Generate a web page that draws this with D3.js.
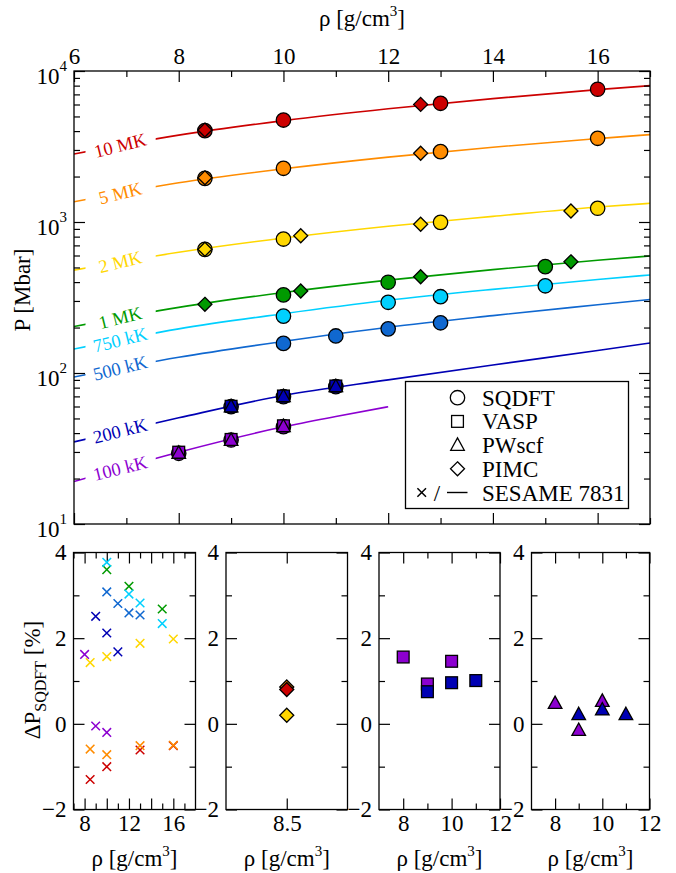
<!DOCTYPE html>
<html>
<head>
<meta charset="utf-8">
<script src="https://cdn.jsdelivr.net/npm/d3@7/dist/d3.min.js"></script>
<style>
body{margin:0;background:#fff}
text, tspan {font-family:"Liberation Serif" !important}
</style>
</head>
<body>
<svg id="chart" width="676" height="873" font-family="Liberation Serif"></svg>
<script>
let temps = ['10 MK','5 MK','2 MK','1 MK','750 kK','500 kK','200 kK','100 kK']
let colours = ['#cc0000','#ff8c00','#ffd700','#009a00','#00d0ff','#1068d0','#0000b4','#8c00d0']

// SESAME 7831 isotherms, P in Mbar
let sesameRho = [6,8,10,12,14,16,17]
let sesame10MK = [2820,3760,4690,5620,6560,7530,8000]
let sesame5MK = [1360,1820,2250,2690,3130,3565,3790]
let sesame2MK = [480,630,783,938,1090,1257,1330]
let sesame1MK = [203,272,341,412,484,558,596]
let sesame750kK = [144,196,247,303,358,416,446]
let sesame500kK = [94,127,162,201,240,283,307]
let sesame200kK = [35,50.5,71,90,113,141,158]
let sesame100kKRho = [6,8,10,11,12]
let sesame100kK = [19.1,29.9,44,51.5,59.8]

// SQDFT
let sqdft10MK = [[8.5,4030],[10,4732],[13,6110],[16,7570]]
let sqdft5MK = [[8.5,1945],[10,2268],[13,2924],[16,3583]]
let sqdft2MK = [[8.5,659],[10,771],[13,995],[16,1233]]
let sqdft1MK = [[10,329],[12,399],[15,506]]
let sqdft750kK = [[10,238],[12,294],[13,320],[15,378]]
let sqdft500kK = [[10,157],[11,176],[12,196],[13,215]]
let sqdft200kK = [[9,59.8],[10,69.7],[11,81.2]]
let sqdft100kK = [[8,29.4],[9,36.0],[10,44.1]]

// VASP, PWscf, PIMC
let vasp200kK = [[9,60.2],[10,70.4],[11,82.0]]
let vasp100kK = [[8,29.9],[9,36.3],[10,44.7]]
let pwscf200kK = [[9,59.9],[10,69.9],[11,81.4]]
let pwscf100kK = [[8,29.5],[9,35.9],[10,44.3]]
let pimc10MK = [[8.5,4062],[12.62,6010]]
let pimc5MK = [[8.5,1962],[12.62,2853]]
let pimc2MK = [[8.5,660],[10.33,811],[12.62,966],[15.49,1183]]
let pimc1MK = [[8.5,285],[10.33,349],[12.62,434],[15.49,545]]

// deviations from SQDFT [%]
let devSesame10MK = [[8.5,-1.30],[10,-1.00],[13,-0.61],[16,-0.51]]
let devSesame5MK = [[8.5,-0.59],[10,-0.72],[13,-0.51],[16,-0.50]]
let devSesame2MK = [[8.5,1.43],[10,1.57],[13,1.88],[16,1.98]]
let devSesame1MK = [[10,3.60],[12,3.21],[15,2.68]]
let devSesame750kK = [[10,3.77],[12,3.03],[13,2.82],[15,2.34]]
let devSesame500kK = [[10,3.08],[11,2.81],[12,2.59],[13,2.54]]
let devSesame200kK = [[9,2.51],[10,2.12],[11,1.68]]
let devSesame100kK = [[8,1.62],[9,-0.05],[10,-0.20]]
let devPimc5MK = [[8.5,0.86]]
let devPimc10MK = [[8.5,0.80]]
let devPimc2MK = [[8.5,0.20]]
let devVasp100kK = [[8,1.56],[9,0.93],[10,1.46]]
let devVasp200kK = [[9,0.75],[10,0.96],[11,1.01]]
let devPwscf100kK = [[8,0.48],[9,-0.15],[10,0.53]]
let devPwscf200kK = [[9,0.22],[10,0.33],[11,0.22]]

let legendNames = ['SQDFT','VASP','PWscf','PIMC','SESAME 7831']

let svg = d3.select('#chart')
let fontSize = 23

function addAxis(axis,tx,ty){
	let a = svg.append('g').attr('transform','translate('+tx+','+ty+')').call(axis)
	a.select('.domain').remove()
	a.attr('font-family','Liberation Serif')
	a.selectAll('line').attr('stroke','#000').attr('stroke-width',1.2)
	a.selectAll('text').attr('font-size',fontSize).attr('fill','#000')
	return a
}

function drawFrame(x,y,xMajor,xMinor,xLabels,yMajor,yMinor,yLabels,topLabels){
	let x0 = x.range()[0], x1 = x.range()[1]
	let y0 = y.range()[0], y1 = y.range()[1]
	let fmt = function(d){ return xLabels.indexOf(d)>-1 ? d3.format('')(d) : '' }
	let yfmt = function(d){ return yLabels ? d3.format('')(d) : '' }
	addAxis(d3.axisBottom(x).tickValues(xMajor).tickSize(-11).tickPadding(5).tickFormat(topLabels ? '' : fmt),0,y0)
	addAxis(d3.axisTop(x).tickValues(xMajor).tickSize(-11).tickPadding(7).tickFormat(topLabels ? fmt : ''),0,y1)
	addAxis(d3.axisBottom(x).tickValues(xMinor).tickSize(-6).tickFormat(''),0,y0)
	addAxis(d3.axisTop(x).tickValues(xMinor).tickSize(-6).tickFormat(''),0,y1)
	addAxis(d3.axisLeft(y).tickValues(yMajor).tickSize(-11).tickPadding(7).tickFormat(yfmt),x0,0)
	addAxis(d3.axisRight(y).tickValues(yMajor).tickSize(-11).tickFormat(''),x1,0)
	addAxis(d3.axisLeft(y).tickValues(yMinor).tickSize(-6).tickFormat(''),x0,0)
	addAxis(d3.axisRight(y).tickValues(yMinor).tickSize(-6).tickFormat(''),x1,0)
	svg.append('rect').attr('x',x0).attr('y',y1).attr('width',x1-x0).attr('height',y0-y1)
		.attr('fill','none').attr('stroke','#000').attr('stroke-width',1.3)
}

function rhoTitle(cx,baseline){
	let t = svg.append('text').attr('x',cx).attr('y',baseline).attr('text-anchor','middle').attr('font-size',fontSize)
	t.append('tspan').text('\u03c1 [g/cm')
	t.append('tspan').attr('font-size',15).attr('dy',-10).text('3')
	t.append('tspan').attr('dy',10).text(']')
}

function marker(g,shape,px,py,fill,stroke){
	let s
	if(shape=='circle'){
		s = g.append('circle').attr('cx',px).attr('cy',py).attr('r',7.2)
	} else if(shape=='square'){
		s = g.append('rect').attr('x',px-5.9).attr('y',py-5.9).attr('width',11.8).attr('height',11.8)
	} else if(shape=='triangle'){
		s = g.append('path').attr('d','M'+px+','+(py-7.2)+'L'+(px+6.8)+','+(py+5.2)+'L'+(px-6.8)+','+(py+5.2)+'Z')
	} else if(shape=='diamond'){
		s = g.append('path').attr('d','M'+px+','+(py-7)+'L'+(px+7)+','+py+'L'+px+','+(py+7)+'L'+(px-7)+','+py+'Z')
	} else if(shape=='cross'){
		s = g.append('path').attr('d','M'+(px-4.3)+','+(py-4.3)+'L'+(px+4.3)+','+(py+4.3)+'M'+(px-4.3)+','+(py+4.3)+'L'+(px+4.3)+','+(py-4.3)).attr('fill','none').attr('stroke',fill).attr('stroke-width',1.5)
		return s
	}
	s.attr('fill',fill).attr('stroke',stroke).attr('stroke-width',1.3)
	return s
}

function plotPoints(g,x,y,data,shape,colour){
	data.forEach(function(d){
		marker(g,shape,x(d[0]),y(d[1]),colour,'#000')
	})
}

// ---------- top panel ----------
let x = d3.scaleLinear().domain([6,17]).range([74,650])
let y = d3.scaleLog().domain([10,1e4]).range([524,71])

let clip = svg.append('clipPath').attr('id','lineclip')
clip.append('rect').attr('x',x(6)).attr('y',y(1e4)).attr('width',x(6.22)-x(6)).attr('height',y(10)-y(1e4))
clip.append('rect').attr('x',x(7.56)).attr('y',y(1e4)).attr('width',x(17)-x(7.56)).attr('height',y(10)-y(1e4))

let sesameLines = [sesame10MK,sesame5MK,sesame2MK,sesame1MK,sesame750kK,sesame500kK,sesame200kK,sesame100kK]
let line = d3.line().x(function(d){ return x(d[0]) }).y(function(d){ return y(d[1]) }).curve(d3.curveMonotoneX)
let lineG = svg.append('g').attr('clip-path','url(#lineclip)')
sesameLines.forEach(function(vals,i){
	let rho = (i==7) ? sesame100kKRho : sesameRho
	let pts = vals.map(function(v,j){ return [rho[j],v] })
	lineG.append('path').attr('d',line(pts)).attr('fill','none').attr('stroke',colours[i]).attr('stroke-width',1.6)
	let t = 0.4425
	let lp = Math.log10(pts[0][1])+(Math.log10(pts[1][1])-Math.log10(pts[0][1]))*t
	let lx = x(6.885), ly = y(Math.pow(10,lp))
	svg.append('text').attr('transform','translate('+lx+','+ly+') rotate(-14)')
		.attr('text-anchor','middle').attr('dominant-baseline','central')
		.attr('font-size',18.5).style('fill',colours[i]).text(temps[i])
})

drawFrame(x,y,[6,8,10,12,14,16],[7,9,11,13,15,17],[6,8,10,12,14,16],
	[10,100,1000,10000],
	d3.range(1,4).flatMap(function(e){ return d3.range(2,10).map(function(k){ return k*Math.pow(10,e) }) }),
	false,true)

;[1,2,3,4].forEach(function(e){
	let t = svg.append('text').attr('x',67).attr('y',y(Math.pow(10,e))+13).attr('text-anchor','end').attr('font-size',fontSize)
	t.append('tspan').text('10')
	t.append('tspan').attr('font-size',15).attr('dy',-13).text(e)
})

rhoTitle(362,26)
svg.append('text').attr('transform','translate(30,290) rotate(-90)').attr('text-anchor','middle')
	.attr('font-size',fontSize).text('P [Mbar]')

let markG = svg.append('g')
let sqdftSets = [sqdft10MK,sqdft5MK,sqdft2MK,sqdft1MK,sqdft750kK,sqdft500kK,sqdft200kK,sqdft100kK]
sqdftSets.forEach(function(d,i){ plotPoints(markG,x,y,d,'circle',colours[i]) })
plotPoints(markG,x,y,vasp200kK,'square',colours[6])
plotPoints(markG,x,y,vasp100kK,'square',colours[7])
plotPoints(markG,x,y,pwscf200kK,'triangle',colours[6])
plotPoints(markG,x,y,pwscf100kK,'triangle',colours[7])
plotPoints(markG,x,y,pimc10MK,'diamond',colours[0])
plotPoints(markG,x,y,pimc5MK,'diamond',colours[1])
plotPoints(markG,x,y,pimc2MK,'diamond',colours[2])
plotPoints(markG,x,y,pimc1MK,'diamond',colours[3])

// legend
let leg = svg.append('g')
leg.append('rect').attr('x',405.5).attr('y',381.5).attr('width',223).attr('height',127)
	.attr('fill','#fff').attr('stroke','#000').attr('stroke-width',1.3)
let legShapes = ['circle','square','triangle','diamond']
legendNames.forEach(function(name,i){
	let ry = 397.7+i*23.7
	if(i<4){
		marker(leg,legShapes[i],457.5,ry,'none','#000')
	} else {
		marker(leg,'cross',421.7,ry,'#000')
		leg.append('text').attr('x',437).attr('y',ry+8).attr('text-anchor','middle').attr('font-size',fontSize).text('/')
		leg.append('line').attr('x1',447).attr('x2',467.5).attr('y1',ry).attr('y2',ry).attr('stroke','#000').attr('stroke-width',1.4)
	}
	leg.append('text').attr('x',482).attr('y',ry+8).attr('font-size',fontSize).text(name)
})

// ---------- bottom panels ----------
let yd = d3.scaleLinear().domain([-2,4]).range([809.5,552.5])
let yMajor = [-2,0,2,4], yMinor = [-1,1,3]

let x1 = d3.scaleLinear().domain([7,18]).range([73.5,195.5])
drawFrame(x1,yd,[8,10,12,14,16],[7,9,11,13,15,17],[8,12,16],yMajor,yMinor,true,false)
let p1 = svg.append('g')
let devSets = [devSesame10MK,devSesame5MK,devSesame2MK,devSesame1MK,devSesame750kK,devSesame500kK,devSesame200kK,devSesame100kK]
devSets.forEach(function(d,i){
	d.forEach(function(p){ marker(p1,'cross',x1(p[0]),yd(p[1]),colours[i]) })
})
rhoTitle(134.5,866)

let x2 = d3.scaleLinear().domain([8.25,8.75]).range([226,347.5])
drawFrame(x2,yd,[8.5],[],[8.5],yMajor,yMinor,true,false)
let p2 = svg.append('g')
plotPoints(p2,x2,yd,devPimc5MK,'diamond',colours[1])
plotPoints(p2,x2,yd,devPimc10MK,'diamond',colours[0])
plotPoints(p2,x2,yd,devPimc2MK,'diamond',colours[2])
rhoTitle(286.8,866)

let x3 = d3.scaleLinear().domain([7,12]).range([379,500])
drawFrame(x3,yd,[8,10,12],[9,11],[8,10,12],yMajor,yMinor,true,false)
let p3 = svg.append('g')
plotPoints(p3,x3,yd,devVasp100kK,'square',colours[7])
plotPoints(p3,x3,yd,devVasp200kK,'square',colours[6])
rhoTitle(439.5,866)

let x4 = d3.scaleLinear().domain([7,12]).range([531.5,649.5])
drawFrame(x4,yd,[8,10,12],[9,11],[8,10,12],yMajor,yMinor,true,false)
let p4 = svg.append('g')
plotPoints(p4,x4,yd,devPwscf100kK,'triangle',colours[7])
plotPoints(p4,x4,yd,devPwscf200kK,'triangle',colours[6])
rhoTitle(590.5,866)

let yt = svg.append('text').attr('transform','translate(40,680) rotate(-90)').attr('text-anchor','middle').attr('font-size',fontSize)
yt.append('tspan').text('\u0394P')
yt.append('tspan').attr('font-size',16).attr('dy',6).text('SQDFT')
yt.append('tspan').attr('dy',-6).text(' [%]')

svg.selectAll('text').attr('font-family','Liberation Serif').style('font-family','"Liberation Serif"')
</script>
</body>
</html>
